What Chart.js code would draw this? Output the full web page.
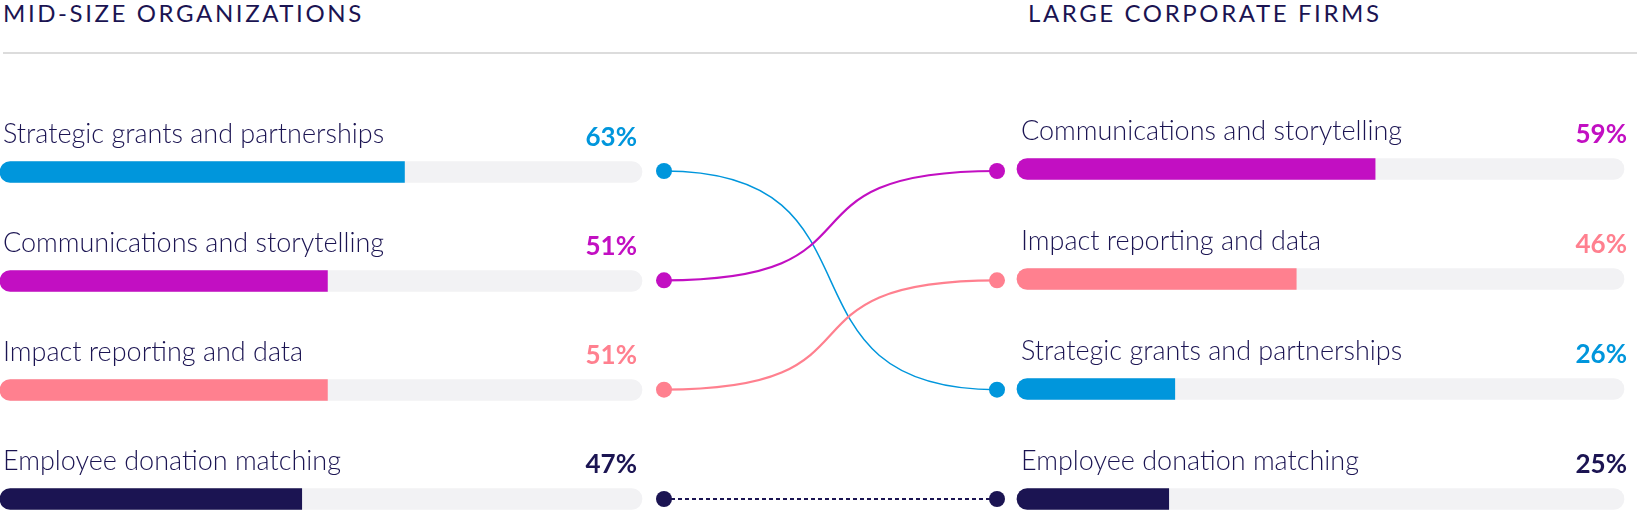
<!DOCTYPE html>
<html>
<head>
<meta charset="utf-8">
<script src="https://cdn.jsdelivr.net/npm/chart.js@4.4.0/dist/chart.umd.min.js"></script>
<style>
  html, body { margin: 0; padding: 0; background: #fff; }
  #wrap { position: relative; width: 1637px; height: 510px; overflow: hidden; font-family: Lato, sans-serif; color: #1B1452; }
  .head { position: absolute; top: 1px; font-size: 24px; line-height: 24px; letter-spacing: 2.6px; white-space: nowrap; }
  #rule { position: absolute; left: 3px; right: 0; top: 52px; height: 2px; background: #DCDCDC; }
  canvas { position: absolute; top: 0; }
</style>
</head>
<body>
<div id="wrap">
  <div class="head" style="left:3px">MID-SIZE ORGANIZATIONS</div>
  <div class="head" style="left:1028px">LARGE CORPORATE FIRMS</div>
  <div id="rule"></div>
  <canvas id="leftChart" width="650" height="510" style="left:0"></canvas>
  <canvas id="rightChart" width="627" height="510" style="left:1010px"></canvas>
  <canvas id="midChart" width="380" height="510" style="left:640px"></canvas>
</div>
<script>
const categories = [
  'Strategic grants and partnerships',
  'Communications and storytelling',
  'Impact reporting and data',
  'Employee donation matching'
];
const midSizeValues = [63, 51, 51, 47];
const largeFirmValues = [26, 59, 46, 25];
const seriesColors = ['#0096DC', '#C20FC2', '#FF808F', '#1B1452'];

const TEXT = '#1B1452';
const TRACK = '#F2F2F4';

// order of categories in a panel, highest first
function rankOrder(values) {
  return values.map((v, i) => i).sort((a, b) => values[b] - values[a] || a - b);
}
const leftOrder = rankOrder(midSizeValues);
const rightOrder = rankOrder(largeFirmValues);

// category name above the bar, percentage at the end of the track
const rowLabels = {
  id: 'rowLabels',
  afterDatasetsDraw(chart, args, opts) {
    const ctx = chart.ctx;
    const meta = chart.getDatasetMeta(1);
    const end = chart.scales.x.getPixelForValue(100);
    ctx.save();
    ctx.textBaseline = 'alphabetic';
    meta.data.forEach((bar, i) => {
      const k = opts.order[i];
      ctx.font = '300 27px Lato';
      ctx.fillStyle = TEXT;
      ctx.textAlign = 'left';
      ctx.fillText(categories[k], chart.chartArea.left + opts.labelDx, bar.y - 29);
      ctx.font = '700 26px Lato';
      ctx.fillStyle = seriesColors[k];
      ctx.textAlign = 'right';
      ctx.fillText(chart.data.datasets[1].data[i] + '%', end + opts.pctDx, bar.y - 26);
    });
    ctx.restore();
  }
};

function panel(id, order, values, pad, labelDx, pctDx) {
  return new Chart(document.getElementById(id), {
    type: 'bar',
    data: {
      labels: order.map(k => categories[k]),
      datasets: [
        {
          data: order.map(() => 100),
          backgroundColor: TRACK,
          borderRadius: 11,
          borderSkipped: false,
          order: 2
        },
        {
          data: order.map(k => values[k]),
          backgroundColor: order.map(k => seriesColors[k]),
          borderRadius: { topLeft: 11, bottomLeft: 11, topRight: 0, bottomRight: 0 },
          borderSkipped: false,
          order: 1
        }
      ]
    },
    options: {
      indexAxis: 'y',
      responsive: false,
      animation: false,
      datasets: { bar: { barThickness: 21, grouped: false, clip: false } },
      layout: { padding: pad },
      scales: {
        x: { min: 0, max: 100, display: false },
        y: { offset: false, display: false }
      },
      plugins: {
        legend: { display: false },
        tooltip: { enabled: false },
        rowLabels: { order: order, labelDx: labelDx, pctDx: pctDx }
      }
    },
    plugins: [rowLabels]
  });
}

panel('leftChart', leftOrder, midSizeValues, { left: 0, right: 8, top: 172, bottom: 11 }, 3, -5);
panel('rightChart', rightOrder, largeFirmValues, { left: 7, right: 13, top: 169, bottom: 11 }, 4, 3);

// curved links between the rank of a category on each side
const connectors = {
  id: 'connectors',
  beforeDatasetsDraw(chart) {
    const ctx = chart.ctx;
    chart.data.datasets.forEach((ds, i) => {
      const pts = chart.getDatasetMeta(i).data;
      const a = pts[0], b = pts[1];
      ctx.save();
      ctx.strokeStyle = ds.borderColor;
      ctx.lineWidth = ds.borderWidth;
      ctx.beginPath();
      ctx.moveTo(a.x, a.y);
      if (Math.abs(a.y - b.y) < 1) {
        ctx.setLineDash([4, 3]);
        ctx.lineTo(b.x, b.y);
      } else {
        const dx = (b.x - a.x) * 0.7;
        ctx.bezierCurveTo(a.x + dx, a.y, b.x - dx, b.y, b.x, b.y);
      }
      ctx.stroke();
      ctx.restore();
    });
  }
};

new Chart(document.getElementById('midChart'), {
  type: 'scatter',
  data: {
    datasets: categories.map((c, k) => ({
      label: c,
      data: [
        { x: 0, y: leftOrder.indexOf(k) },
        { x: 1, y: rightOrder.indexOf(k) }
      ],
      backgroundColor: seriesColors[k],
      borderColor: seriesColors[k],
      borderWidth: k === 0 ? 1.5 : 2.2,
      pointRadius: 8,
      pointHoverRadius: 8,
      pointBorderWidth: 0,
      clip: false
    }))
  },
  options: {
    responsive: false,
    animation: false,
    layout: { padding: { left: 24, right: 23, top: 171, bottom: 11 } },
    scales: {
      x: { min: 0, max: 1, display: false },
      y: { min: 0, max: 3, reverse: true, display: false }
    },
    plugins: { legend: { display: false }, tooltip: { enabled: false } }
  },
  plugins: [connectors]
});
</script>
</body>
</html>
